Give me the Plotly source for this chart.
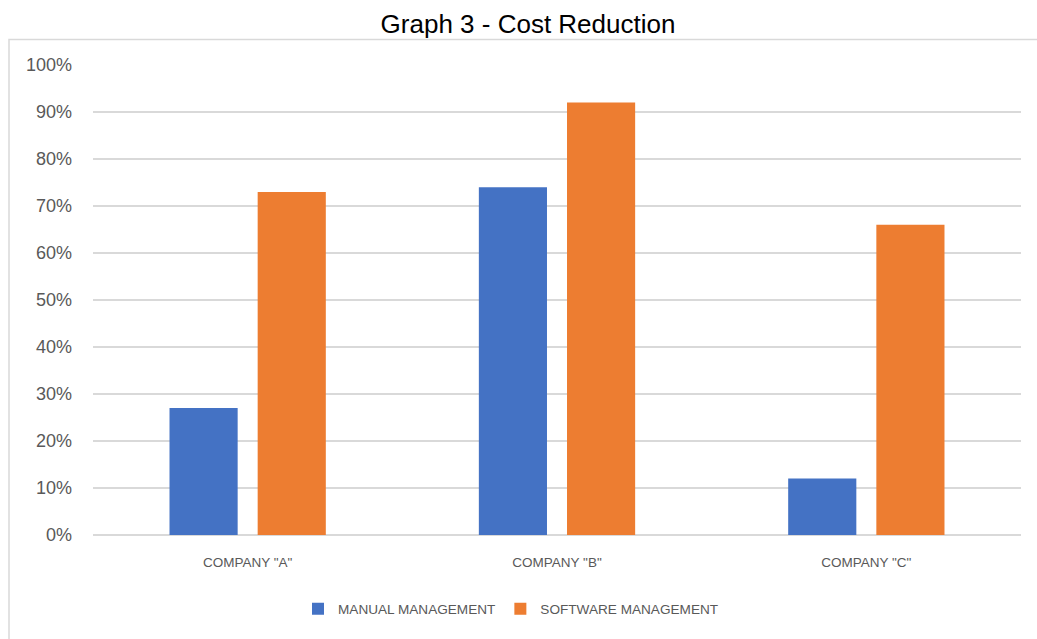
import plotly.graph_objects as go

categories = ['COMPANY "A"', 'COMPANY "B"', 'COMPANY "C"']
manual = [0.27, 0.74, 0.12]
software = [0.73, 0.92, 0.66]
series_names = ["MANUAL MANAGEMENT", "SOFTWARE MANAGEMENT"]
tick_vals = [0, 0.1, 0.2, 0.3, 0.4, 0.5, 0.6, 0.7, 0.8, 0.9, 1.0]

W, H = 1037, 639
ml, mr, mt, mb = 93, 16, 65, 104
pw, ph = W - ml - mr, H - mt - mb

fig = go.Figure()
fig.add_trace(go.Bar(x=categories, y=manual, name=series_names[0],
                     marker=dict(color="#4472C4", line=dict(width=0))))
fig.add_trace(go.Bar(x=categories, y=software, name=series_names[1],
                     marker=dict(color="#ED7D31", line=dict(width=0))))

def px_x(p):
    return (p - ml) / pw

def px_y(p):
    return (H - mb - p) / ph

fig.add_shape(type="rect", xref="paper", yref="paper",
              x0=px_x(9), x1=px_x(1045), y0=px_y(39.5), y1=px_y(660),
              line=dict(color="#D9D9D9", width=1.5), fillcolor="rgba(0,0,0,0)",
              layer="below")

fig.update_layout(
    width=W, height=H,
    margin=dict(l=ml, r=mr, t=mt, b=mb),
    paper_bgcolor="white", plot_bgcolor="white",
    title=dict(text="Graph 3 - Cost Reduction", x=528 / W, xref="container", xanchor="center",
               y=1 - 24 / H, yref="container", yanchor="middle",
               font=dict(family="Arial, Liberation Sans", size=26, color="#000000")),
    barmode="group", bargap=0.43, bargroupgap=0.227,
    showlegend=True,
    legend=dict(orientation="h", x=px_x(511), xanchor="center", xref="paper",
                y=px_y(609), yanchor="middle",
                font=dict(family="Arial, Liberation Sans", size=13.6, color="#595959"),
                itemwidth=30, traceorder="normal"),
    xaxis=dict(showgrid=False, showline=False, ticks="",
               tickfont=dict(family="Arial, Liberation Sans", size=13.5, color="#595959"),
               ticklabelstandoff=17),
    yaxis=dict(range=[0, 1.0], tickvals=tick_vals, tickformat=".0%",
               showgrid=True, gridcolor="#D9D9D9", gridwidth=1.5,
               zeroline=True, zerolinecolor="#D9D9D9", zerolinewidth=1.5,
               showline=False, ticks="",
               tickfont=dict(family="Arial, Liberation Sans", size=18, color="#595959"),
               ticklabelstandoff=20),
)

fig.write_html("out.html")
